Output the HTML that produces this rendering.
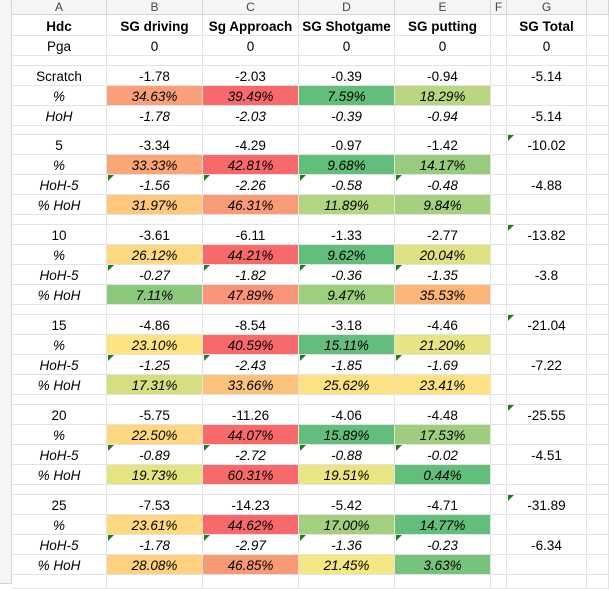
<!DOCTYPE html>
<html><head><meta charset="utf-8"><style>
body{margin:0;width:609px;height:584px;overflow:hidden;background:#fff;font-family:"Liberation Sans",Arial,sans-serif;}
#sheet{position:relative;width:609px;height:584px;}
.c{position:absolute;box-sizing:border-box;border-right:1px solid #e3e3e3;border-bottom:1px solid #e3e3e3;font-size:13.5px;color:#000;text-align:center;white-space:nowrap;overflow:hidden;}
.h{background:#f5f5f5;color:#444;font-size:12px;border-color:#d4d4d4;}
.i{font-style:italic;}
.b{font-weight:bold;}
.tri{position:absolute;width:0;height:0;border-top:6px solid #1e7b1e;border-right:6px solid transparent;}
</style></head><body>
<div id="sheet"></div>
<script>
const colLetters=["A","B","C","D","E","F","G",""];
const colX=[12,107,203,299,395,491,507,587,609];
const headers=["Hdc","SG driving","Sg Approach","SG Shotgame","SG putting","","SG Total"];
const blockLabels=["5","10","15","20","25"];
const rawVals=[[-3.34,-4.29,-0.97,-1.42],[-3.61,-6.11,-1.33,-2.77],[-4.86,-8.54,-3.18,-4.46],[-5.75,-11.26,-4.06,-4.48],[-7.53,-14.23,-5.42,-4.71]];
const pctVals=[["33.33%","42.81%","9.68%","14.17%"],["26.12%","44.21%","9.62%","20.04%"],["23.10%","40.59%","15.11%","21.20%"],["22.50%","44.07%","15.89%","17.53%"],["23.61%","44.62%","17.00%","14.77%"]];
const pctCol=[["#fba677","#f8696b","#63be7b","#97cc7e"],["#fed981","#f8696b","#63be7b","#dfe283"],["#fee382","#f8696b","#63be7b","#e6e483"],["#fed880","#f8696b","#63be7b","#9fcd7e"],["#fed981","#f8696b","#a3cf7f","#63be7b"]];
const hohVals=[[-1.56,-2.26,-0.58,-0.48],[-0.27,-1.82,-0.36,-1.35],[-1.25,-2.43,-1.85,-1.69],[-0.89,-2.72,-0.88,-0.02],[-1.78,-2.97,-1.36,-0.23]];
const hohPct=[["31.97%","46.31%","11.89%","9.84%"],["7.11%","47.89%","9.47%","35.53%"],["17.31%","33.66%","25.62%","23.41%"],["19.73%","60.31%","19.51%","0.44%"],["28.08%","46.85%","21.45%","3.63%"]];
const hohPctCol=[["#fdc77d","#f99b77","#b1d580","#a4d07f"],["#8cc97e","#f9937a","#9ccf7e","#fcb579"],["#d5df81","#fcc27c","#fee182","#fee182"],["#e5e483","#f8696b","#e9e583","#63be7b"],["#fdd17f","#f99a77","#f5e884","#76c47c"]];
const totals=["-10.02","-13.82","-21.04","-25.55","-31.89"];
const hohTotals=["-4.88","-3.8","-7.22","-4.51","-6.34"];
const scratch=[-1.78,-2.03,-0.39,-0.94];
const scratchPct=["34.63%","39.49%","7.59%","18.29%"];
const scratchCol=["#f9a07a","#f8696b","#63be7b","#b9d780"];

const S=document.getElementById('sheet');
function cell(ci,y,h,txt,cls,bg,name){
  const d=document.createElement('div');
  d.className='c '+(cls||'');
  d.style.left=colX[ci]+'px';d.style.top=y+'px';
  d.style.width=(colX[ci+1]-colX[ci])+'px';d.style.height=h+'px';
  d.style.paddingTop='2px';
  d.style.lineHeight=(h-2)+'px';
  if(bg)d.style.background=bg;
  d.textContent=txt;
  
  
  S.appendChild(d);return d;
}
function tri(ci,y){
  const t=document.createElement('div');t.className='tri';
  t.style.left=(colX[ci]+1)+'px';t.style.top=y+'px';
  
  
  S.appendChild(t);
}
const g=document.createElement('div');g.className='c h';g.style.left='0px';g.style.top='0px';g.style.width='12px';g.style.height='584px';


S.appendChild(g);
for(let i=0;i<8;i++){const d=cell(i,0,15,colLetters[i],'h',null,'column-header');d.style.paddingTop='0px';d.style.lineHeight='14px';}
function emptyRow(y,h){for(let c=0;c<8;c++){const d=cell(c,y,h,'','',null,'empty-cell');d.style.paddingTop='0px';}}
for(let c=0;c<8;c++)cell(c,15,21,headers[c]||'','b',null,'header-cell');
for(let c=0;c<8;c++)cell(c,36,20,c==0?'Pga':(c<5||c==6?'0':''),'',null,'pga-cell');
emptyRow(56,10);
const fmt=v=>v.toFixed(2);
cell(0,66,20,'Scratch');for(let k=0;k<4;k++)cell(k+1,66,20,fmt(scratch[k]));cell(5,66,20,'');cell(6,66,20,'-5.14');cell(7,66,20,'');
cell(0,86,20,'%','i');for(let k=0;k<4;k++)cell(k+1,86,20,scratchPct[k],'i',scratchCol[k],'pct-cell');cell(5,86,20,'');cell(6,86,20,'');cell(7,86,20,'');
cell(0,106,20,'HoH','i');for(let k=0;k<4;k++)cell(k+1,106,20,fmt(scratch[k]),'i');cell(5,106,20,'');cell(6,106,20,'-5.14');cell(7,106,20,'');
emptyRow(126,9);
const blockTops=[135,225,315,405,495];
for(let b=0;b<5;b++){
  const y=blockTops[b];
  cell(0,y,20,blockLabels[b],'',null,'hdc-label');for(let k=0;k<4;k++)cell(k+1,y,20,fmt(rawVals[b][k]));cell(5,y,20,'');cell(6,y,20,totals[b],'',null,'total-cell');cell(7,y,20,'');tri(6,y);
  cell(0,y+20,20,'%','i');for(let k=0;k<4;k++)cell(k+1,y+20,20,pctVals[b][k],'i',pctCol[b][k],'pct-cell');cell(5,y+20,20,'');cell(6,y+20,20,'');cell(7,y+20,20,'');
  cell(0,y+40,20,'HoH-5','i');for(let k=0;k<4;k++){cell(k+1,y+40,20,fmt(hohVals[b][k]),'i');tri(k+1,y+40);}cell(5,y+40,20,'');cell(6,y+40,20,hohTotals[b],'',null,'hoh-total-cell');cell(7,y+40,20,'');
  cell(0,y+60,20,'% HoH','i');for(let k=0;k<4;k++)cell(k+1,y+60,20,hohPct[b][k],'i',hohPctCol[b][k],'hoh-pct-cell');cell(5,y+60,20,'');cell(6,y+60,20,'');cell(7,y+60,20,'');
  emptyRow(y+80,b<4?10:14);
}
</script>
</body></html>
